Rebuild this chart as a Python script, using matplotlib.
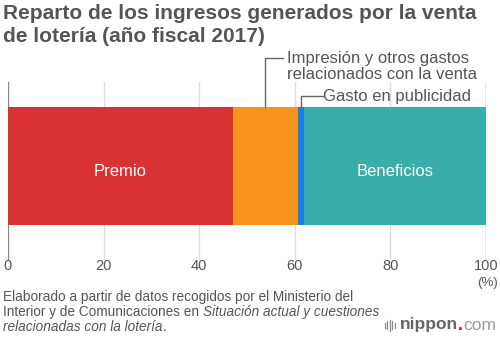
import matplotlib.pyplot as plt

# reparto del ingreso por venta de lotería, año fiscal 2017 (%)
categorias = ["Premio", "Impresión y otros gastos\nrelacionados con la venta",
              "Gasto en publicidad", "Beneficios"]
valores = [47.0, 13.6, 1.3, 38.1]
colores = ["#d93232", "#f7941e", "#1a80e5", "#3aaca9"]
ticks = [0, 20, 40, 60, 80, 100]

gris = "#555555"
plt.rcParams["font.family"] = ["Liberation Sans", "DejaVu Sans"]

W, H = 500, 338
fig = plt.figure(figsize=(W / 100, H / 100), dpi=100)
ax = fig.add_axes([8 / W, 1 - 260 / H, 478 / W, 178 / H])
ax.set_xlim(0, 100)
ax.set_ylim(0, 1)


def px(x, y):
    # píxeles desde la esquina superior izquierda -> coordenadas de figura
    return x / W, 1 - y / H


# rejilla vertical
for t in ticks:
    c = "#888888" if t in (0, 100) else "#dddddd"
    ax.axvline(t, color=c, lw=1, zorder=0)

# barra apilada
bar_y0, bar_y1 = 35 / 178, 153 / 178
izq = 0
centros = []
for v, col in zip(valores, colores):
    ax.barh((bar_y0 + bar_y1) / 2, v, left=izq, height=bar_y1 - bar_y0,
            color=col, zorder=2)
    centros.append(izq + v / 2)
    izq += v

y_txt = (260 - 172) / 178
for i in (0, 3):
    ax.text(centros[i], y_txt, categorias[i], color="white", fontsize=12,
            ha="center", va="center", zorder=3)

# líneas guía para los segmentos estrechos
y_imp = (260 - 58) / 178
ax.plot([centros[1], centros[1], 57.6], [bar_y1, y_imp, y_imp],
        color="#666666", lw=1, clip_on=False, zorder=3)
ax.text(58.3, (260 - 51) / 178, categorias[1], color=gris, fontsize=12,
        ha="left", va="top", linespacing=1.05, clip_on=False)
y_gas = (260 - 96) / 178
ax.plot([centros[2], centros[2], 65.8], [bar_y1, y_gas, y_gas],
        color="#666666", lw=1, clip_on=False, zorder=3)
ax.text(65.9, y_gas, categorias[2], color=gris, fontsize=12, ha="left",
        va="center", clip_on=False)

ax.set_xticks(ticks)
ax.tick_params(axis="x", length=0, pad=-1, labelsize=10.5, labelcolor=gris)
ax.set_yticks([])
for sp in ax.spines.values():
    sp.set_visible(False)

fig.text(*px(487, 283), "(%)", color=gris, fontsize=9.5,
         ha="center", va="center")

fig.text(*px(3, 4), "Reparto de los ingresos generados por la venta\n"
         "de lotería (año fiscal 2017)", color=gris, fontsize=15,
         fontweight="bold", ha="left", va="top", linespacing=1.3)

# nota de fuente, con el título del informe en cursiva
fs = 9.8
fig.text(*px(3, 297), "Elaborado a partir de datos recogidos por el Ministerio del",
         color=gris, fontsize=fs, ha="left", va="center")
t2 = fig.text(*px(3, 312), "Interior y de Comunicaciones en ", color=gris,
              fontsize=fs, ha="left", va="center")
t3 = fig.text(*px(3, 327), "relacionadas con la lotería", color=gris,
              fontsize=fs, style="italic", ha="left", va="center")
fig.canvas.draw()
r = fig.canvas.get_renderer()
x2 = t2.get_window_extent(r).x1
x3 = t3.get_window_extent(r).x1
fig.text(x2 / W, 1 - 312 / H, "Situación actual y cuestiones", color=gris,
         fontsize=fs, style="italic", ha="left", va="center")
fig.text(x3 / W, 1 - 327 / H, ".", color=gris, fontsize=fs,
         ha="left", va="center")

# logotipo
yl = 1 - 325 / H
tn = fig.text(400 / W, yl, "nippon", color="#666666", fontsize=12.5,
              fontweight="bold", ha="left", va="center")
fig.canvas.draw()
xn = tn.get_window_extent(r).x1
td = fig.text(xn / W, yl, ".", color="#e60012", fontsize=12.5,
              fontweight="bold", ha="left", va="center")
fig.canvas.draw()
xd = td.get_window_extent(r).x1
fig.text(xd / W, yl, "com", color="#999999", fontsize=12.5,
         ha="left", va="center")
for i, h in enumerate([5, 8, 11, 8, 5]):
    xb = (385 + i * 2.4) / W
    fig.add_artist(plt.Line2D([xb, xb], [yl - h / 2 / H, yl + h / 2 / H],
                              color="#888888", lw=0.9))

fig.savefig("out.png", dpi=100)
